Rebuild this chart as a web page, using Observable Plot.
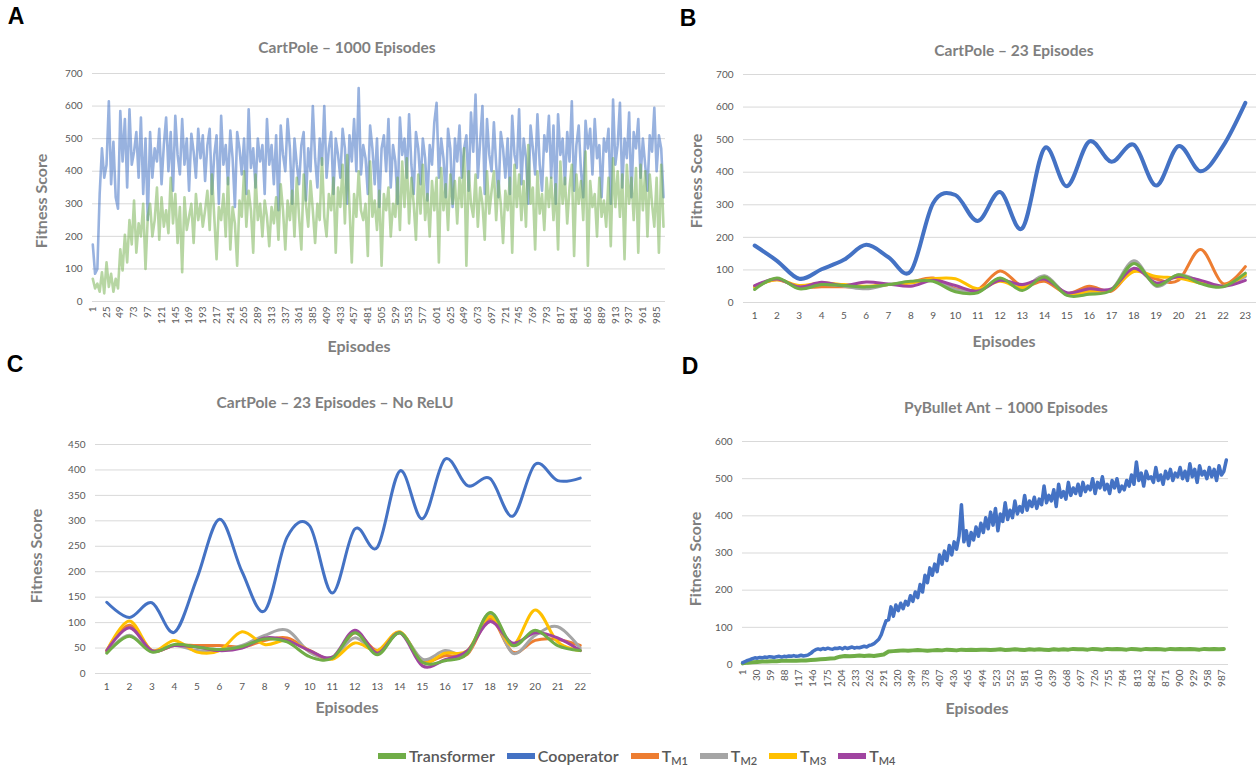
<!DOCTYPE html>
<html>
<head>
<meta charset="utf-8">
<script src="https://cdn.jsdelivr.net/npm/d3@7"></script>
<script src="https://cdn.jsdelivr.net/npm/@observablehq/plot@0.6"></script>
<style>
html,body{margin:0;padding:0;background:#fff;}
#page{position:relative;width:1256px;height:769px;overflow:hidden;font-family:Lato,"Open Sans",sans-serif;background:#fff;}
.panel{position:absolute;}
.lbl{position:absolute;white-space:nowrap;transform:translate(-50%,-50%);line-height:1;}
.letter{font-family:"Liberation Sans",Arial,sans-serif;font-weight:bold;font-size:23px;color:#000;}
.title{font-weight:bold;font-size:15.5px;color:#7f7f7f;}
.axt{font-weight:bold;font-size:16px;color:#7f7f7f;}
.rot{transform:translate(-50%,-50%) rotate(-90deg);}
#legend{position:absolute;left:378px;top:748px;display:flex;align-items:center;font-size:16px;color:#595959;font-weight:600;line-height:1;}
.item{display:flex;align-items:center;margin-right:12px;}
.sw{width:28px;height:6px;margin-right:3px;}
.subs{font-size:11px;position:relative;top:4px;}
</style>
</head>
<body>
<div id="page"></div>
<script>
// ---------- shared series metadata ----------
const seriesNames = ["Transformer", "Cooperator", "TM1", "TM2", "TM3", "TM4"];
const seriesColors = {Transformer: "#70AD47", Cooperator: "#4472C4", TM1: "#ED7D31", TM2: "#A5A5A5", TM3: "#FFC000", TM4: "#A044A0"};

// ---------- Panel A: CartPole – 1000 Episodes (read every 4 episodes) ----------
const aStep = 4;
const aTicks = [1,25,49,73,97,121,145,169,193,217,241,265,289,313,337,361,385,409,433,457,481,505,529,553,577,601,625,649,673,697,721,745,769,793,817,841,865,889,913,937,961,985];
const aYTicks = [0,100,200,300,400,500,600,700];
const aCooperator = [
175,85,100,330,470,380,420,615,360,490,320,285,585,430,560,350,590,420,460,520,380,565,330,500,250,
520,380,470,430,530,360,480,565,400,520,340,570,450,390,560,420,500,340,515,460,380,530,440,510,370,
480,530,330,450,510,300,570,420,480,360,525,440,290,520,470,390,500,330,590,410,470,350,500,430,480,
330,560,420,480,360,510,280,540,450,400,560,470,300,500,420,360,480,520,310,470,400,600,440,350,500,
420,600,380,470,520,330,500,450,380,530,470,300,510,430,560,400,655,390,480,440,330,540,470,360,500,
290,470,510,400,560,350,480,430,300,565,450,500,380,575,420,330,520,470,360,500,440,310,480,420,550,
610,380,500,440,320,530,470,290,500,430,540,380,470,510,340,580,460,635,380,490,600,330,560,450,400,
550,420,320,520,470,380,500,330,570,450,410,590,360,500,440,300,540,470,390,575,420,340,510,460,570,
380,540,300,575,450,500,360,520,430,615,340,480,540,400,320,555,470,530,390,560,440,480,320,500,460,
530,300,620,420,480,610,350,500,440,580,320,520,470,560,380,500,420,340,510,460,595,400,510,470,320
];
const aTransformer = [
70,40,55,30,90,25,120,45,85,30,70,40,160,95,205,120,250,175,310,150,240,200,300,100,260,
300,200,250,350,190,320,230,280,210,380,240,330,180,290,90,320,220,260,300,180,330,250,300,230,280,
340,220,390,260,130,290,250,330,200,380,160,290,240,110,310,260,400,230,340,280,150,390,250,300,200,
310,260,170,290,240,320,190,360,280,160,310,250,340,200,380,260,160,390,300,230,370,280,180,300,250,
440,260,200,330,280,380,150,350,290,420,240,450,290,120,330,260,400,280,250,300,140,430,260,310,220,
340,110,330,280,350,200,300,260,380,220,430,290,440,240,380,300,190,390,270,420,250,330,200,370,280,
380,120,410,280,360,220,390,300,370,240,380,290,470,110,400,300,260,390,230,350,300,190,400,270,340,
400,250,370,300,180,340,280,380,150,420,290,390,250,370,230,480,300,350,160,400,270,330,220,380,290,
380,250,360,160,430,300,380,240,350,420,140,390,300,370,250,460,110,370,290,330,200,380,260,310,230,
380,170,440,290,400,260,390,130,420,300,380,250,410,150,420,280,400,200,390,300,230,380,150,420,230
];

// ---------- Panel B: CartPole – 23 Episodes ----------
const bEpisodes = [1,2,3,4,5,6,7,8,9,10,11,12,13,14,15,16,17,18,19,20,21,22,23];
const bYTicks = [0,100,200,300,400,500,600,700];
const bCooperator  = [175,128,73,102,131,177,139,96,305,330,250,339,228,474,357,494,432,484,359,480,403,480,613];
const bTM1         = [50,70,48,48,48,48,55,62,75,42,40,97,50,65,28,50,35,100,72,68,163,58,110];
const bTM2         = [45,72,45,55,50,42,55,62,68,40,35,70,45,82,25,30,40,128,50,85,65,50,80];
const bTM3         = [48,70,52,60,55,50,55,60,73,73,42,65,45,75,25,35,40,95,80,75,60,50,85];
const bTM4         = [52,72,48,62,52,63,57,50,68,52,35,68,55,72,30,42,42,105,60,80,68,50,68];
const bTransformer = [40,75,42,55,52,48,55,65,65,33,30,75,37,78,22,25,38,120,53,85,58,48,90];

// ---------- Panel C: CartPole – 23 Episodes – No ReLU ----------
const cEpisodes = [1,2,3,4,5,6,7,8,9,10,11,12,13,14,15,16,17,18,19,20,21,22];
const cYTicks = [0,50,100,150,200,250,300,350,400,450];
const cCooperator  = [140,110,139,81,187,303,200,123,268,290,158,284,248,398,304,421,369,383,309,411,379,384];
const cTM1         = [45,95,45,55,55,55,52,65,70,45,30,80,45,80,25,35,38,108,42,65,67,55];
const cTM2         = [42,75,43,55,45,45,55,75,85,42,32,70,42,80,28,45,40,118,40,75,92,50];
const cTM3         = [45,103,45,65,42,45,82,57,65,45,28,60,45,82,22,40,45,112,55,125,62,45];
const cTM4         = [45,90,45,55,52,45,50,70,65,45,32,85,40,80,15,27,45,102,60,80,70,45];
const cTransformer = [40,73,42,57,52,47,53,68,62,33,30,80,37,80,22,25,40,120,55,85,55,45];

// ---------- Panel D: PyBullet Ant – 1000 Episodes ----------
const dCoopStep = 5;
const dTransStep = 10;
const dTicks = [1,30,59,88,117,146,175,204,233,262,291,320,349,378,407,436,465,494,523,552,581,610,639,668,697,726,755,784,813,842,871,900,929,958,987];
const dYTicks = [0,100,200,300,400,500,600];
const dCooperator = [
5,8,11,13,16,18,17,19,18,20,19,21,20,19,21,22,20,22,21,23,
22,24,22,23,25,23,24,26,30,36,40,42,40,43,41,44,42,41,44,43,
45,42,46,43,45,47,44,46,45,47,49,47,51,53,56,62,68,80,100,118,
120,155,130,160,145,165,150,170,160,185,170,195,180,215,195,240,220,260,240,270,
250,295,270,305,280,320,295,330,310,345,430,330,360,320,355,335,370,345,380,355,
395,365,410,375,420,360,405,385,435,390,415,395,440,405,425,410,455,415,440,425,
450,420,445,430,480,435,455,440,470,425,485,450,465,445,490,455,475,460,485,455,
490,465,480,470,500,460,490,475,505,470,485,460,495,475,500,465,480,470,495,480,
510,485,545,495,515,480,520,500,505,490,530,495,510,485,520,500,525,495,515,505,
530,500,520,495,540,505,525,490,535,510,520,500,530,505,525,495,535,510,520,550
];
const dTransformer = [
3,5,6,7,8,8,9,9,10,10,
10,10,11,11,12,13,14,15,16,17,
21,23,22,23,24,23,24,23,25,27,
35,36,37,38,37,38,39,38,37,38,
39,38,40,39,38,40,39,40,39,40,
40,39,40,41,39,40,41,40,39,41,
40,41,40,39,41,40,41,40,42,41,
41,40,42,41,40,42,41,42,41,40,
42,41,40,42,41,42,41,40,42,41,
42,41,42,41,40,42,41,42,41,42
];

// ---------- helpers ----------
const page = document.getElementById("page");
const baseStyle = {fontFamily: "Lato, 'Open Sans', sans-serif", fontSize: "10px", color: "#595959", background: "transparent", overflow: "visible"};

function mount(svg, left, top) {
  const d = document.createElement("div");
  d.className = "panel";
  d.style.left = left + "px";
  d.style.top = top + "px";
  d.appendChild(svg);
  page.appendChild(d);
}
function label(text, x, y, cls, rotate) {
  const d = document.createElement("div");
  d.className = "lbl " + cls + (rotate ? " rot" : "");
  d.style.left = x + "px";
  d.style.top = y + "px";
  d.textContent = text;
  page.appendChild(d);
}
function seriesLine(values, name, opts) {
  const step = opts.step || 1;
  return Plot.line(values, {
    x: (d, i) => 1 + i * step,
    y: d => d,
    stroke: seriesColors[name],
    strokeWidth: opts.width,
    strokeOpacity: opts.opacity ?? 1,
    curve: opts.curve || "linear",
    strokeLinejoin: "round",
    strokeLinecap: "round"
  });
}
function frameMarks(yTicks, xTicks, xAxisOpts) {
  return [
    Plot.gridY(yTicks, {stroke: "#D9D9D9", strokeOpacity: 1, strokeWidth: 1}),
    Plot.axisY(yTicks, {tickSize: 0, tickPadding: 10, label: null, fontSize: 10}),
    Plot.axisX(xTicks, Object.assign({tickSize: 0, label: null, fontSize: 10}, xAxisOpts))
  ];
}

// ---------- Panel A ----------
mount(Plot.plot({
  width: 680, height: 380,
  marginLeft: 92, marginRight: 15, marginTop: 73, marginBottom: 79,
  style: baseStyle,
  x: {type: "linear", domain: [0.5, 1000.5]},
  y: {domain: [0, 700]},
  marks: [
    ...frameMarks(aYTicks, aTicks, {tickRotate: -90, tickPadding: 5}),
    seriesLine(aCooperator, "Cooperator", {step: aStep, width: 2.6, opacity: 0.55}),
    seriesLine(aTransformer, "Transformer", {step: aStep, width: 2.6, opacity: 0.5})
  ]
}), 0, 0);

// ---------- Panel B ----------
mount(Plot.plot({
  width: 576, height: 380,
  marginLeft: 63, marginRight: 0, marginTop: 74, marginBottom: 78,
  style: baseStyle,
  x: {type: "linear", domain: [0.5, 23.5]},
  y: {domain: [0, 700]},
  marks: [
    ...frameMarks(bYTicks, bEpisodes, {tickPadding: 9}),
    seriesLine(bCooperator, "Cooperator", {width: 4, curve: "cardinal"}),
    seriesLine(bTM1, "TM1", {width: 3, curve: "cardinal"}),
    seriesLine(bTM2, "TM2", {width: 3, curve: "cardinal"}),
    seriesLine(bTM3, "TM3", {width: 3, curve: "cardinal"}),
    seriesLine(bTM4, "TM4", {width: 3, curve: "cardinal"}),
    seriesLine(bTransformer, "Transformer", {width: 3, curve: "cardinal"})
  ]
}), 680, 0);

// ---------- Panel C ----------
mount(Plot.plot({
  width: 680, height: 340,
  marginLeft: 95, marginRight: 89, marginTop: 64, marginBottom: 47,
  style: baseStyle,
  x: {type: "linear", domain: [0.5, 22.5]},
  y: {domain: [0, 450]},
  marks: [
    ...frameMarks(cYTicks, cEpisodes, {tickPadding: 9}),
    seriesLine(cCooperator, "Cooperator", {width: 3, curve: "cardinal"}),
    seriesLine(cTM1, "TM1", {width: 3, curve: "cardinal"}),
    seriesLine(cTM2, "TM2", {width: 3, curve: "cardinal"}),
    seriesLine(cTM3, "TM3", {width: 3, curve: "cardinal"}),
    seriesLine(cTM4, "TM4", {width: 3, curve: "cardinal"}),
    seriesLine(cTransformer, "Transformer", {width: 3, curve: "cardinal"})
  ]
}), 0, 380);

// ---------- Panel D ----------
mount(Plot.plot({
  width: 576, height: 340,
  marginLeft: 62, marginRight: 28, marginTop: 61, marginBottom: 56,
  style: baseStyle,
  x: {type: "linear", domain: [0.5, 1000.5]},
  y: {domain: [0, 600]},
  marks: [
    ...frameMarks(dYTicks, dTicks, {tickRotate: -90, tickPadding: 5}),
    seriesLine(dTransformer, "Transformer", {step: dTransStep, width: 4}),
    seriesLine(dCooperator, "Cooperator", {step: dCoopStep, width: 3.5})
  ]
}), 680, 380);

// ---------- text ----------
label("A", 16, 16, "letter");
label("B", 688, 18, "letter");
label("C", 15, 364, "letter");
label("D", 690, 366, "letter");

label("CartPole – 1000 Episodes", 347, 48, "title");
label("CartPole – 23 Episodes", 1014, 51, "title");
label("CartPole – 23 Episodes – No ReLU", 335, 403, "title");
label("PyBullet Ant – 1000 Episodes", 1006, 408, "title");

label("Fitness Score", 41, 201, "axt", true);
label("Fitness Score", 696, 181, "axt", true);
label("Fitness Score", 36, 556, "axt", true);
label("Fitness Score", 695, 559, "axt", true);

label("Episodes", 359, 346, "axt");
label("Episodes", 1004, 341, "axt");
label("Episodes", 347, 707, "axt");
label("Episodes", 977, 708, "axt");

// ---------- legend ----------
const legendLabels = {Transformer: ["Transformer", ""], Cooperator: ["Cooperator", ""], TM1: ["T", "M1"], TM2: ["T", "M2"], TM3: ["T", "M3"], TM4: ["T", "M4"]};
const legend = document.createElement("div");
legend.id = "legend";
for (const name of seriesNames) {
  const item = document.createElement("div");
  item.className = "item";
  const sw = document.createElement("span");
  sw.className = "sw";
  sw.style.background = seriesColors[name];
  item.appendChild(sw);
  const t = document.createElement("span");
  t.textContent = legendLabels[name][0];
  item.appendChild(t);
  if (legendLabels[name][1]) {
    const s = document.createElement("span");
    s.className = "subs";
    s.textContent = legendLabels[name][1];
    item.appendChild(s);
  }
  legend.appendChild(item);
}
page.appendChild(legend);
</script>
</body>
</html>
